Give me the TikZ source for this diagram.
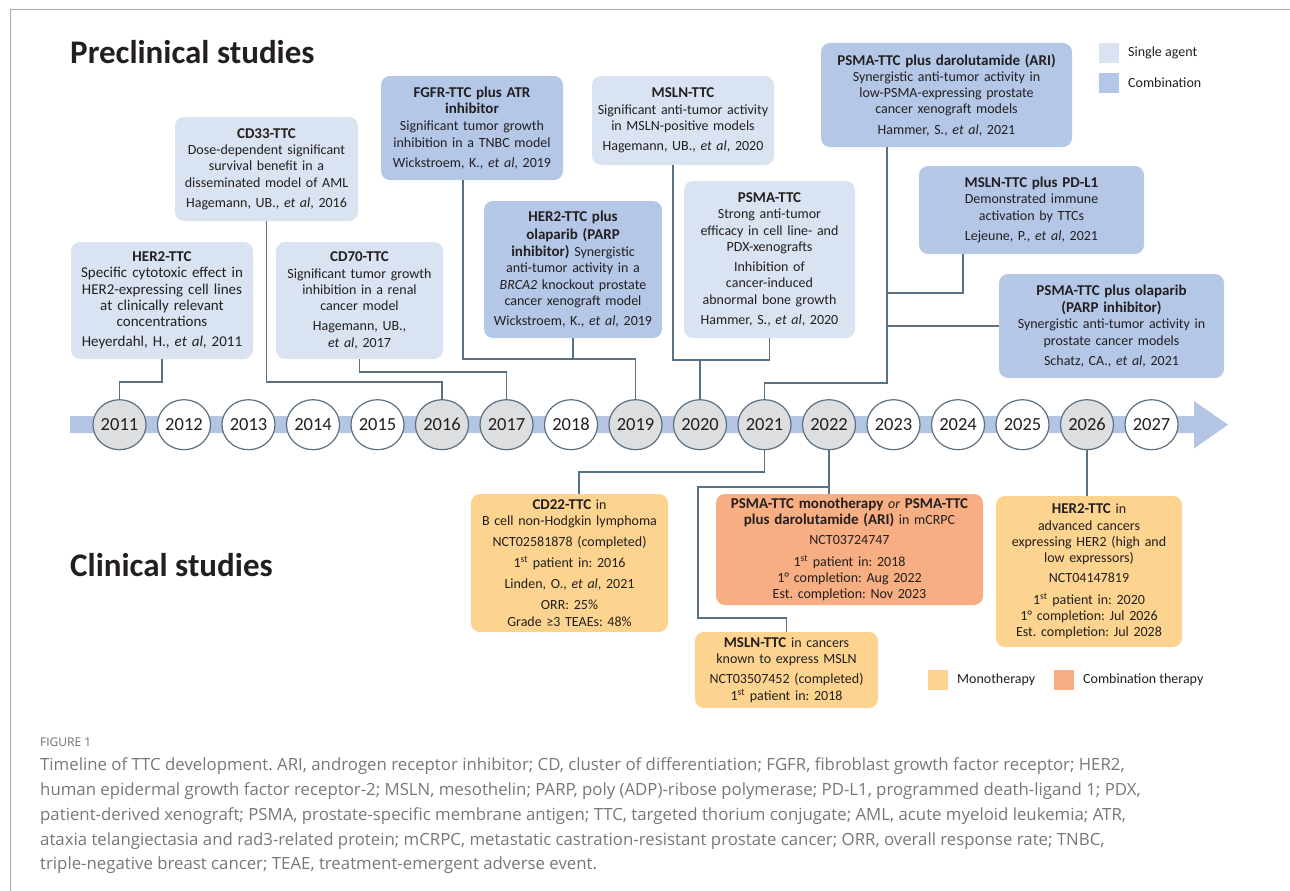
\documentclass[tikz,border=0pt]{standalone}
\usepackage{fontspec}
\setmainfont{Carlito}
\newfontfamily\capfont{Open Sans}
\usetikzlibrary{shapes.geometric}
\frenchspacing
\definecolor{single}{HTML}{DAE3F1}
\definecolor{combo}{HTML}{B4C7E7}
\definecolor{mono}{HTML}{FCD48F}
\definecolor{combther}{HTML}{F6AE82}
\definecolor{band}{HTML}{B4C5E4}
\definecolor{conn}{HTML}{5B7080}
\definecolor{yrgray}{HTML}{DCDEE0}
\definecolor{ink}{HTML}{231F20}
\definecolor{framec}{HTML}{AAAAAA}
\definecolor{capgray}{HTML}{777777}
\newcommand{\ttl}[1]{{\fontsize{15}{16.3}\selectfont\bfseries #1}}
\tikzset{
  card/.style={rounded corners=9pt, inner sep=0pt, align=center,
    font=\fontsize{14}{16.3}\selectfont, text=ink},
  bigcard/.style={card, font=\fontsize{15}{16.3}\selectfont},
  yr/.style={ellipse, draw=conn, line width=1.2pt, minimum width=48pt,
    minimum height=50pt, inner sep=0pt, font=\fontsize{18.5}{20}\selectfont, text=ink},
  link/.style={draw=conn, line width=1.4pt},
  heading/.style={anchor=west, inner sep=0pt, font=\fontsize{33}{36}\selectfont\bfseries, text=ink},
  legsq/.style={minimum width=20pt, minimum height=20pt, inner sep=0pt},
  legtxt/.style={anchor=west, inner sep=0pt, font=\fontsize{14}{16}\selectfont, text=ink},
  capline/.style={anchor=base west, inner sep=0pt, font=\capfont\fontsize{16.8}{20}\selectfont, text=capgray}
}
\begin{document}
\begin{tikzpicture}[x=1pt,y=-1pt]
\useasboundingbox (0,0) rectangle (1290,891);
% frame
\draw[framec, line width=1pt] (10,891) -- (10,10) -- (1290,10);

% headings
\node[heading] (pre) at (70,52) {Preclinical studies};
\node[heading] (cli) at (70,565) {Clinical studies};

% legends
\node[legsq, fill=single] (lsa) at (1109,53) {};
\node[legtxt] (lsat) at (1128,53) {Single agent};
\node[legsq, fill=combo] (lco) at (1109,83) {};
\node[legtxt] (lcot) at (1128,83) {Combination};
\node[legsq, fill=mono] (lmo) at (937.5,680) {};
\node[legtxt] (lmot) at (957,680) {Monotherapy};
\node[legsq, fill=combther] (lct) at (1064,680) {};
\node[legtxt] (lctt) at (1083,680) {Combination therapy};

% timeline band
\fill[band] (70,416) -- (1194,416) -- (1194,401) -- (1228,424.7) -- (1194,448.5) -- (1194,433) -- (70,433) -- cycle;
\foreach \yrv/\fc [count=\i from 0] in {2011/yrgray,2012/white,2013/white,2014/white,2015/white,2016/yrgray,2017/yrgray,2018/white,2019/yrgray,2020/yrgray,2021/yrgray,2022/yrgray,2023/white,2024/white,2025/white,2026/yrgray,2027/white}
  \node[yr, fill=\fc] (y\yrv) at (119.5+64.5*\i,424.7) {\yrv};

% preclinical boxes
\node[bigcard, fill=single, minimum width=182pt, minimum height=117pt, text width=180pt] (her2p) at (162,300.5)
 {\ttl{HER2-TTC}\\Specific cytotoxic effect in\\HER2-expressing cell lines\\at clinically relevant\\concentrations\\[4pt]Heyerdahl, H., \textit{et al}, 2011};
\node[card, fill=single, minimum width=183pt, minimum height=104pt, text width=180pt] (cd33) at (266.5,169)
 {\ttl{CD33-TTC}\\Dose-dependent significant\\survival benefit in a\\disseminated model of AML\\[4pt]Hagemann, UB., \textit{et al}, 2016};
\node[card, fill=single, minimum width=167pt, minimum height=117pt, text width=164pt] (cd70) at (359.5,300.5)
 {\ttl{CD70-TTC}\\Significant tumor growth\\inhibition in a renal\\cancer model\\[4pt]Hagemann, UB.,\\\textit{et al}, 2017};
\node[card, fill=combo, minimum width=182pt, minimum height=104pt, text width=180pt] (fgfr) at (472,128)
 {\ttl{FGFR-TTC plus ATR}\\\ttl{inhibitor}\\[1pt]Significant tumor growth\\inhibition in a TNBC model\\[4pt]Wickstroem, K., \textit{et al}, 2019};
\node[card, fill=combo, minimum width=178pt, minimum height=137pt, text width=175pt] (her2olap) at (573,269.5)
 {\ttl{HER2-TTC plus}\\[1pt]\ttl{olaparib (PARP}\\[1pt]\ttl{inhibitor)} Synergistic\\anti-tumor activity in a\\\textit{BRCA2} knockout prostate\\cancer xenograft model\\[4pt]Wickstroem, K., \textit{et al}, 2019};
\node[card, fill=single, minimum width=182pt, minimum height=89pt, text width=180pt] (msln) at (683,120.5)
 {\ttl{MSLN-TTC}\\Significant anti-tumor activity\\in MSLN-positive models\\[4pt]Hagemann, UB., \textit{et al}, 2020};
\node[card, fill=single, minimum width=171pt, minimum height=157pt, text width=168pt] (psma) at (769.5,259.5)
 {\ttl{PSMA-TTC}\\Strong anti-tumor\\efficacy in cell line- and\\PDX-xenografts\\[4pt]Inhibition of\\cancer-induced\\abnormal bone growth\\[4pt]Hammer, S., \textit{et al}, 2020};
\node[card, fill=combo, minimum width=251pt, minimum height=104pt, text width=248pt] (psmadaro) at (946.5,95)
 {\ttl{PSMA-TTC plus darolutamide (ARI)}\\Synergistic anti-tumor activity in\\low-PSMA-expressing prostate\\cancer xenograft models\\[4pt]Hammer, S., \textit{et al}, 2021};
\node[card, fill=combo, minimum width=225pt, minimum height=88pt, text width=222pt] (mslnpdl1) at (1031.5,210)
 {\ttl{MSLN-TTC plus PD-L1}\\Demonstrated immune\\activation by TTCs\\[4pt]Lejeune, P., \textit{et al}, 2021};
\node[card, fill=combo, minimum width=225pt, minimum height=104pt, text width=222pt] (psmaolap) at (1111.5,326)
 {\ttl{PSMA-TTC plus olaparib}\\[1pt]\ttl{(PARP inhibitor)}\\Synergistic anti-tumor activity in\\prostate cancer models\\[4pt]Schatz, CA., \textit{et al}, 2021};

% clinical boxes
\node[card, fill=mono, minimum width=197pt, minimum height=138pt, text width=194pt] (cd22) at (569.5,563)
 {\ttl{CD22-TTC} in\\B cell non-Hodgkin lymphoma\\[4pt]NCT02581878 (completed)\\[5pt]1\textsuperscript{st} patient in: 2016\\[5pt]Linden, O., \textit{et al}, 2021\\[5pt]ORR: 25\%\\Grade ≥3 TEAEs: 48\%};
\node[card, fill=combther, minimum width=267pt, minimum height=111pt, text width=264pt] (psmamono) at (849.5,549.5)
 {\ttl{PSMA-TTC monotherapy} \textit{or} \ttl{PSMA-TTC}\\\ttl{plus darolutamide (ARI)} in mCRPC\\[4pt]NCT03724747\\[5pt]1\textsuperscript{st} patient in: 2018\\1° completion: Aug 2022\\Est. completion: Nov 2023};
\node[card, fill=mono, minimum width=183pt, minimum height=76pt, text width=180pt] (mslnmono) at (786.5,670)
 {\ttl{MSLN-TTC} in cancers\\known to express MSLN\\[4pt]NCT03507452 (completed)\\1\textsuperscript{st} patient in: 2018};
\node[card, fill=mono, minimum width=186pt, minimum height=151pt, text width=183pt] (her2mono) at (1089,571.5)
 {\ttl{HER2-TTC} in\\advanced cancers\\expressing HER2 (high and\\low expressors)\\[4pt]NCT04147819\\[5pt]1\textsuperscript{st} patient in: 2020\\1° completion: Jul 2026\\Est. completion: Jul 2028};

% bend levels
\coordinate (h382) at (0,382);
\coordinate (h372) at (0,372);
\coordinate (h359) at (0,359);
\coordinate (h360) at (0,360);
\coordinate (h383) at (0,383);
\coordinate (j1) at (887,293);
\coordinate (h472) at (0,472);
\coordinate (b1) at (698,487);
\coordinate (b2) at (698,618);

% preclinical connectors
\draw[link] (her2p.south) -- (her2p.south |- h382) -| (y2011.north);
\draw[link] (cd33.south) -- (cd33.south |- h382) -| (y2016.north);
\draw[link] (cd70.south) -- (cd70.south |- h372) -| (y2017.north);
\draw[link] ([xshift=-9pt]fgfr.south) -- ([xshift=-9pt]fgfr.south |- h359) -| (y2019.north);
\draw[link] (her2olap.south) -- (her2olap.south |- h359);
\draw[link] ([xshift=-10pt]msln.south) -- ([xshift=-10pt]msln.south |- h360) -| (psma.south);
\draw[link] (y2020.north) -- (y2020.north |- h360);
\draw[link] ([xshift=-59.5pt]psmadaro.south) -- ([xshift=-59.5pt]psmadaro.south |- h383) -| (y2021.north);
\draw[link] ([xshift=-68.5pt]mslnpdl1.south) |- (j1);
\draw[link] (psmaolap.west) -- (psmaolap.west -| j1);

% clinical connectors
\draw[link] ([xshift=9.5pt]cd22.north) -- ([xshift=9.5pt]cd22.north |- h472) -| (y2021.south);
\draw[link] (y2022.south) -- (y2022.south |- psmamono.north);
\draw[link] (y2022.south |- b1) -- (b1) -- (b2) -| (mslnmono.north);
\draw[link] (y2026.south) -- (y2026.south |- her2mono.north);

% caption
\node[anchor=base west, inner sep=0pt, font=\capfont\fontsize{12}{14}\selectfont, text=capgray!90!black] (fig) at (40,746) {FIGURE 1};
\node[capline] (cap1) at (40,770) {Timeline of TTC development. ARI, androgen receptor inhibitor; CD, cluster of differentiation; FGFR, fibroblast growth factor receptor; HER2,};
\node[capline] (cap2) at (40,795) {human epidermal growth factor receptor-2; MSLN, mesothelin; PARP, poly (ADP)-ribose polymerase; PD-L1, programmed death-ligand 1; PDX,};
\node[capline] (cap3) at (40,820) {patient-derived xenograft; PSMA, prostate-specific membrane antigen; TTC, targeted thorium conjugate; AML, acute myeloid leukemia; ATR,};
\node[capline] (cap4) at (40,845) {ataxia telangiectasia and rad3-related protein; mCRPC, metastatic castration-resistant prostate cancer; ORR, overall response rate; TNBC,};
\node[capline] (cap5) at (40,869) {triple-negative breast cancer; TEAE, treatment-emergent adverse event.};
\end{tikzpicture}
\end{document}
